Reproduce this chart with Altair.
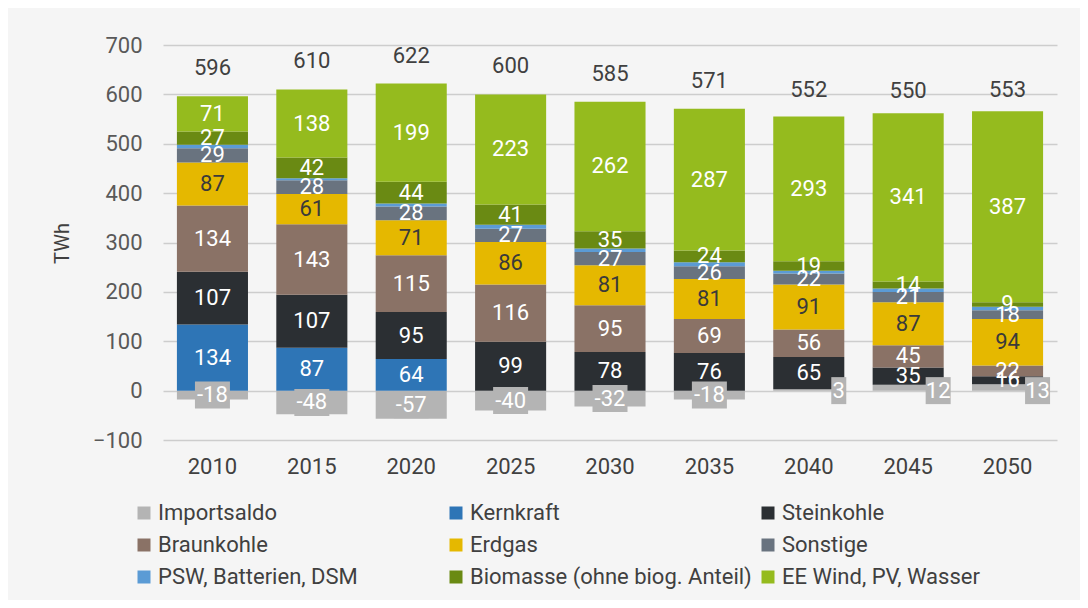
import altair as alt
import pandas as pd

years = ["2010", "2015", "2020", "2025", "2030", "2035", "2040", "2045", "2050"]
series = ["Importsaldo", "Kernkraft", "Steinkohle", "Braunkohle", "Erdgas",
          "Sonstige", "PSW, Batterien, DSM", "Biomasse (ohne biog. Anteil)",
          "EE Wind, PV, Wasser"]
colors = ["#b4b4b4", "#2e75b6", "#2b2f33", "#8a7266", "#e5b800",
          "#69737f", "#5b9bd5", "#6a8a13", "#95bb1e"]

importsaldo = [-18, -48, -57, -40, -32, -18, 3, 12, 13]
kernkraft = [134, 87, 64, 0, 0, 0, 0, 0, 0]
steinkohle = [107, 107, 95, 99, 78, 76, 65, 35, 16]
braunkohle = [134, 143, 115, 116, 95, 69, 56, 45, 22]
erdgas = [87, 61, 71, 86, 81, 81, 91, 87, 94]
sonstige = [29, 28, 28, 27, 27, 26, 22, 21, 18]
psw = [7, 4, 6, 8, 7, 8, 6, 7, 7]
biomasse = [27, 42, 44, 41, 35, 24, 19, 14, 9]
ee = [71, 138, 199, 223, 262, 287, 293, 341, 387]
totals = [596, 610, 622, 600, 585, 571, 552, 550, 553]

values = [importsaldo, kernkraft, steinkohle, braunkohle, erdgas,
          sonstige, psw, biomasse, ee]

rows = []
for si, (s, vals) in enumerate(zip(series, values)):
    for y, v in zip(years, vals):
        rows.append({"year": y, "series": s, "value": v, "ord": si})
df = pd.DataFrame(rows)
tot_df = pd.DataFrame({"year": years, "total": totals})

FONT = "Roboto"
FS = 22

xenc = alt.X("year:N", sort=years, title=None,
             scale=alt.Scale(paddingInner=0.285, paddingOuter=0.14),
             axis=alt.Axis(labelFontSize=FS, labelColor="#404040", labelFont=FONT,
                           ticks=False, domain=False, labelPadding=16, labelAngle=0))
yscale = alt.Scale(domain=[-100, 700], nice=False)

base = alt.Chart(df).transform_stack(
    stack="value", groupby=["year"], sort=[alt.SortField("ord", order="ascending")],
    as_=["y0", "y1"]
).transform_calculate(mid="(datum.y0 + datum.y1) / 2")

bars = base.mark_bar().encode(
    x=xenc,
    y=alt.Y("y0:Q", scale=yscale, title="TWh",
            axis=alt.Axis(values=list(range(-100, 701, 100)), labelFontSize=FS,
                          labelColor="#595959", labelFont=FONT, ticks=False,
                          domain=False, labelPadding=21, gridColor="#cdcdcd",
                          gridWidth=1.5, titleFont=FONT, titleFontSize=20,
                          titleFontWeight="normal", titleColor="#404040",
                          titleAngle=-90, titleX=-101, titleY=198,
                          titleAlign="center", titleBaseline="middle")),
    y2="y1:Q",
    color=alt.Color("series:N", scale=alt.Scale(domain=series, range=colors),
                    legend=alt.Legend(title=None, orient="none", legendX=-30,
                                      legendY=457, columns=3, gridAlign="all",
                                      direction="horizontal",
                                      symbolType="square", symbolSize=169,
                                      symbolStrokeWidth=0, labelFont=FONT,
                                      labelFontSize=FS, labelColor="#404040",
                                      labelOffset=3, rowPadding=10,
                                      columnPadding=5, labelLimit=400,
                                      symbolOpacity=1)),
    order=alt.Order("ord:Q"),
)

seg_labels = base.transform_filter(
    "datum.series != 'Importsaldo' && datum.series != 'PSW, Batterien, DSM' && datum.value > 0"
).mark_text(font=FONT, fontSize=FS, baseline="middle").encode(
    x=alt.X("year:N", sort=years),
    y=alt.Y("mid:Q", scale=yscale),
    text=alt.Text("value:Q", format="d"),
    color=alt.condition("datum.series == 'Erdgas'", alt.value("#3a3a3a"), alt.value("white")),
)

imp = base.transform_filter("datum.series == 'Importsaldo'").transform_calculate(
    ly="datum.value < 0 ? datum.mid : 0",
    lab="'' + datum.value",
    hw="(length('' + datum.value) * 10 + 5) / 27",
    shp="'M' + (-datum.hw) + ',-1L' + datum.hw + ',-1L' + datum.hw + ',1L' + (-datum.hw) + ',1Z'",
)

def imp_layers(cond, dx):
    d = imp.transform_filter(cond)
    box = d.mark_point(filled=True, opacity=1, size=729, color="#b4b4b4",
                       strokeWidth=0, xOffset=dx).encode(
        x=alt.X("year:N", sort=years),
        y=alt.Y("ly:Q", scale=yscale),
        shape=alt.Shape("shp:N", scale=None, legend=None),
    )
    txt = d.mark_text(font=FONT, fontSize=FS, baseline="middle", color="white",
                      dx=dx).encode(
        x=alt.X("year:N", sort=years),
        y=alt.Y("ly:Q", scale=yscale),
        text="lab:N",
    )
    return box + txt

imp_neg = imp_layers("datum.value < 0", 0)
imp_pos = imp_layers("datum.value > 0", 30)

tot_labels = alt.Chart(tot_df).mark_text(font=FONT, fontSize=FS, color="#404040",
                                         baseline="middle", dy=-28).encode(
    x=alt.X("year:N", sort=years),
    y=alt.Y("total:Q", scale=yscale),
    text=alt.Text("total:Q", format="d"),
)

chart = alt.layer(bars, seg_labels, imp_neg, imp_pos, tot_labels).properties(
    width=894, height=395,
    padding={"left": 155, "top": 37, "right": 23, "bottom": 160},
    autosize=alt.AutoSizeParams(type="none"),
    background="#f5f5f5",
).configure_view(stroke=None)

chart.save("out.html", embed_options={"renderer": "svg", "actions": False})
